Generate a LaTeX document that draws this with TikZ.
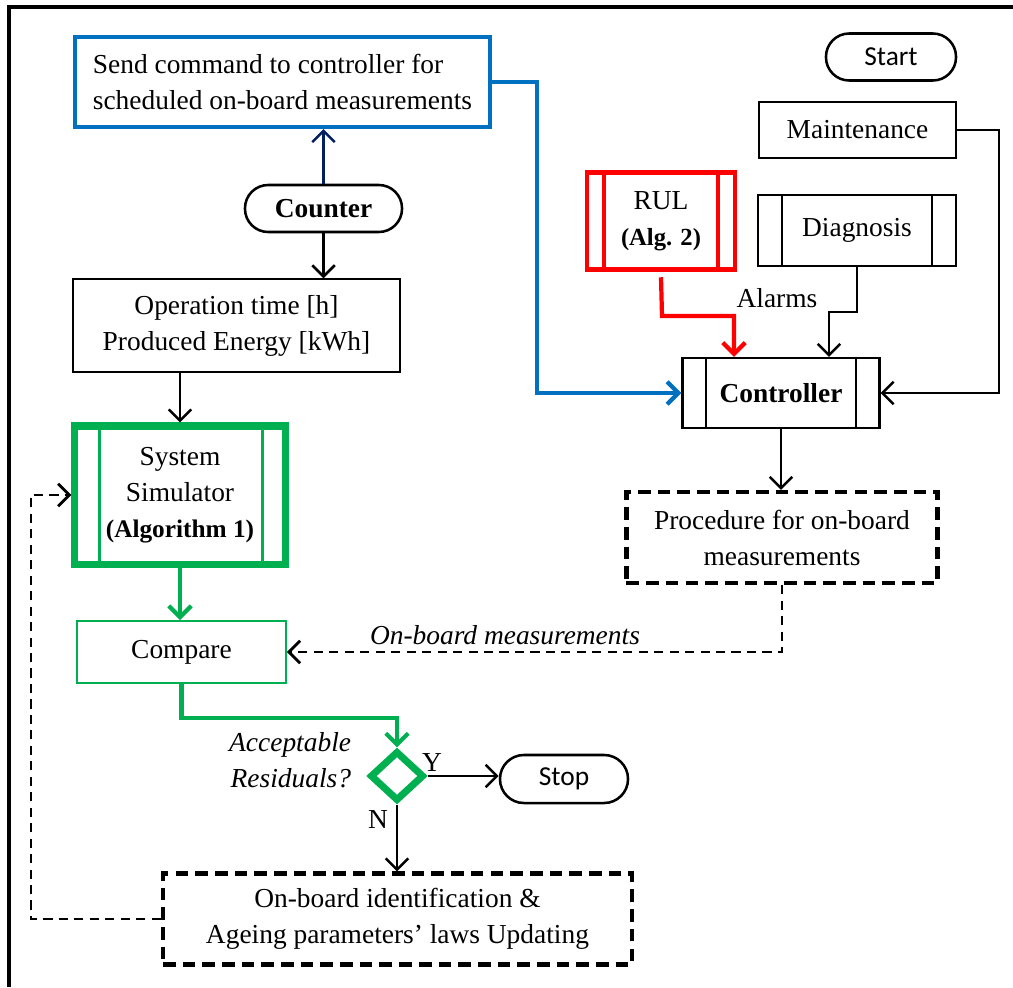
\documentclass[tikz,border=0pt]{standalone}
\usepackage{fontspec}
\setmainfont{Liberation Serif}
\newfontfamily\carlito{Carlito}
\usetikzlibrary{arrows.meta,shapes.geometric}
\definecolor{myblue}{HTML}{0070C0}
\definecolor{mygreen}{HTML}{00B050}
\definecolor{mynavy}{HTML}{002060}
\definecolor{myred}{HTML}{FF0000}
\begin{document}
\begin{tikzpicture}[x=0.025cm,y=-0.025cm,
  font=\fontsize{19.5}{25.6}\selectfont,
  >={Straight Barb[length=8pt,width=16pt]},
  box/.style={draw, inner sep=0pt, align=center},
  thinbox/.style={box, line width=1pt},
  stadium/.style={box, line width=1.8pt},
  conn/.style={line width=1.8pt, ->},
  dashbox/.style={box, line width=3pt, dash pattern=on 9pt off 5pt},
  dashconn/.style={line width=2pt, dash pattern=on 6.5pt off 4.5pt, ->},
  barline/.style={line width=1.6pt}
]
\useasboundingbox (0,0) rectangle (1013,987);
% frame
\draw[line width=3pt] (9,987) -- (9,7) -- (1013,7);

% nodes
\node[box, draw=myblue, line width=3pt, minimum width=10.375cm, minimum height=2.25cm,
      align=left] (send) at (282.5,82)
      {Send command to controller for\\scheduled on-board measurements};
\node[stadium, rounded corners=16.5pt, minimum width=3.925cm, minimum height=1.175cm] (counter) at (323.5,208.5) {\textbf{Counter}};
\node[thinbox, minimum width=8.175cm, minimum height=2.325cm] (op) at (236.5,325.5) {Operation time [h]\\Produced Energy [kWh]};
\node[box, draw=mygreen, line width=5pt, minimum width=5.25cm, minimum height=3.45cm] (sim) at (180,495) {System\\Simulator\\{\fontsize{18}{25.6}\selectfont\bfseries (Algorithm 1)}};
\draw[mygreen, line width=2pt] ([xshift=0.7cm]sim.north west) -- ([xshift=0.7cm]sim.south west)
                        ([xshift=-0.65cm]sim.north east) -- ([xshift=-0.65cm]sim.south east);
\node[box, draw=mygreen, line width=1.2pt, minimum width=5.225cm, minimum height=1.55cm] (cmp) at (181.5,652) {Compare};
\node[diamond, draw=mygreen, line width=5pt, minimum width=1.35cm, minimum height=1.25cm, inner sep=0pt] (dec) at (397,776) {};
\node[stadium, rounded corners=17pt, minimum width=3.2cm, minimum height=1.2cm] (stop) at (564,779) {\carlito Stop};
\node[dashbox, minimum width=11.725cm, minimum height=2.275cm] (bot) at (397.5,919) {On-board identification \&\\Ageing parameters’ laws Updating};

\node[stadium, rounded corners=16.5pt, minimum width=3.25cm, minimum height=1.175cm] (start) at (891,57) {\carlito Start};
\node[thinbox, minimum width=4.925cm, minimum height=1.4cm] (maint) at (857.5,130) {Maintenance};
\node[box, line width=1.6pt, minimum width=4.95cm, minimum height=1.775cm] (diag) at (857,230.5) {Diagnosis};
\draw[barline] ([xshift=0.625cm]diag.north west) -- ([xshift=0.625cm]diag.south west)
               ([xshift=-0.625cm]diag.north east) -- ([xshift=-0.625cm]diag.south east);
\node[box, draw=myred, line width=3pt, minimum width=3.7cm, minimum height=2.425cm] (rul) at (661,221) {RUL\\{\fontsize{17.5}{25.6}\selectfont\bfseries (Alg. 2)}};
\draw[myred, line width=2.5pt] ([xshift=0.475cm]rul.north west) -- ([xshift=0.475cm]rul.south west)
               ([xshift=-0.475cm]rul.north east) -- ([xshift=-0.475cm]rul.south east);
\node[box, line width=1.6pt, minimum width=4.925cm, minimum height=1.75cm] (ctrl) at (781,393) {\textbf{Controller}};
\draw[barline] ([xshift=0.625cm]ctrl.north west) -- ([xshift=0.625cm]ctrl.south west)
               ([xshift=-0.625cm]ctrl.north east) -- ([xshift=-0.625cm]ctrl.south east);
\node[dashbox, minimum width=7.775cm, minimum height=2.275cm] (proc) at (782,537.5) {Procedure for on-board\\measurements};

% labels
\node[font=\fontsize{19.5}{25.6}\selectfont\itshape] (meas) at (505,635) {On-board measurements};
\node[anchor=east, align=right, font=\fontsize{19.5}{25.6}\selectfont\itshape] (acc) at (356,760) {Acceptable\\Residuals?};
\node (ylab) at (432,763) {Y};
\node (nlab) at (378,820) {N};
\node (alarms) at (777,298) {Alarms};

% coordinates
\coordinate (b1) at (537,82);
\coordinate (g1) at (181.5,718);
\coordinate (fb) at (31,919);
\coordinate (m1) at (999,130);
\coordinate (r1) at (662,316);
\coordinate (r2) at (734,316);
\coordinate (d1) at (857,312);
\coordinate (d2) at (829,312);

% connectors
\draw[conn, mynavy] (counter.north) -- (counter.north |- send.south);
\draw[conn] (counter.south) -- (counter.south |- op.north);
\draw[conn] (sim.north |- op.south) -- (sim.north);
\draw[conn, mygreen, line width=3pt] (sim.south) -- (sim.south |- cmp.north);
\draw[conn, mygreen, line width=3pt] (cmp.south) -- (cmp.south |- g1) -| (dec.north);
\draw[conn] (dec.east) -- (dec.east -| stop.west);
\draw[conn] (dec.south) -- (dec.south |- bot.north);
\draw[dashconn] (bot.west) -- (fb) |- (sim.west);
\draw[conn] (ctrl.south) -- (ctrl.south |- proc.north);
\draw[dashconn] (proc.south) |- (cmp.east);
\draw[conn, myblue, line width=3pt] (send.east) -- (b1) |- (ctrl.west);
\draw[conn] (maint.east) -- (m1) |- (ctrl.east);
\draw[conn, myred, line width=3pt] ([yshift=-4pt]rul.south) -- (r1) -- (r2) -- (r2 |- ctrl.north);
\draw[conn] (diag.south) -- (d1) -- (d2) -- (d2 |- ctrl.north);
\end{tikzpicture}
\end{document}
